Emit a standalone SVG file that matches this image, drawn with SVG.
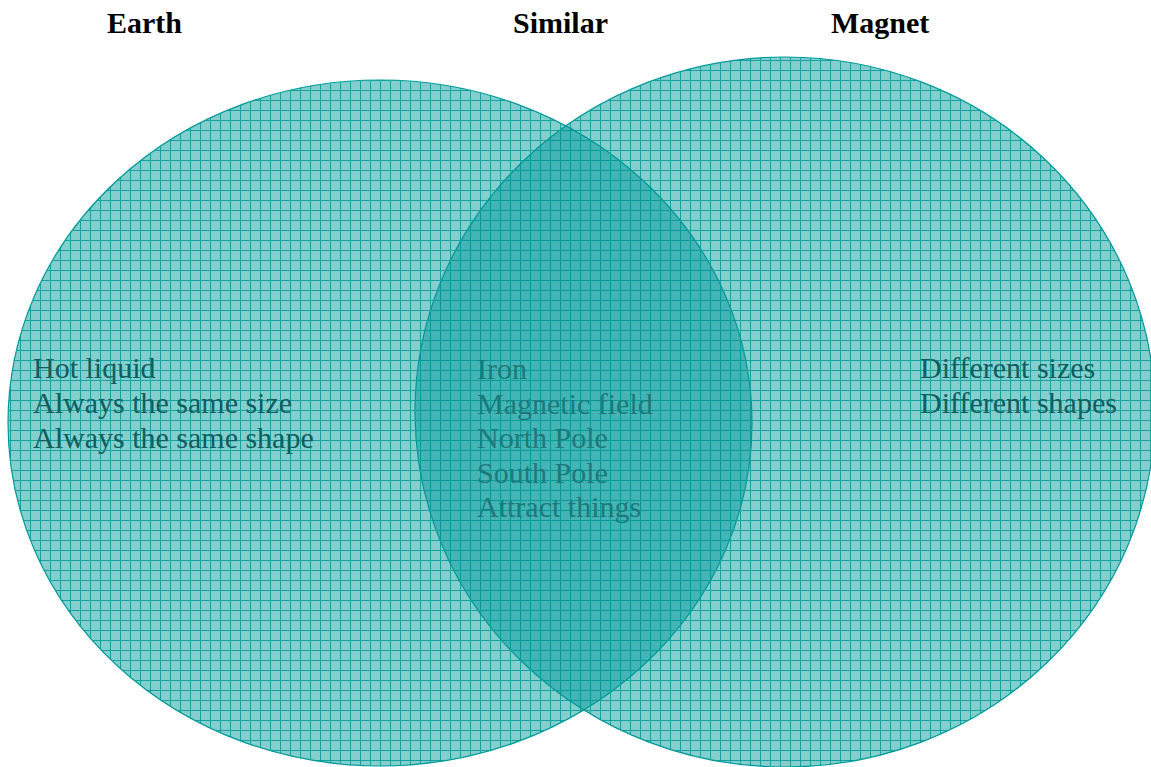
<svg xmlns="http://www.w3.org/2000/svg" width="1151" height="767" viewBox="0 0 1151 767">
<style>
.title{font-family:"Liberation Serif",serif;font-weight:bold;font-size:30px;fill:#000}
.body{font-family:"Liberation Serif",serif;font-size:30px}
.side{fill:#0f5e5e}
.mid{fill:#1c7a7a}
.circ{fill:url(#grid);stroke:#009999;stroke-width:1.2}
</style>
<defs>
<pattern id="grid" width="10" height="10" patternUnits="userSpaceOnUse">
<rect width="10" height="10" fill="#009999" fill-opacity="0.48"/>
<path d="M0 0.5H10M0.5 0V10" stroke="#009999" stroke-opacity="0.85" stroke-width="1" fill="none"/>
</pattern>
</defs>
<rect width="1151" height="767" fill="#fff"/>
<g id="connectors"></g>
<g id="earth">
<ellipse class="circ" cx="380" cy="423" rx="372" ry="343"/>
</g>
<g id="magnet">
<ellipse class="circ" cx="785" cy="412" rx="370" ry="355"/>
</g>
<g id="titles">
<text class="title" x="107" y="33">Earth</text>
<text class="title" x="513" y="33">Similar</text>
<text class="title" x="831" y="33">Magnet</text>
</g>
<g id="earth-text" class="body side">
<text x="33" y="378">Hot liquid</text>
<text x="33" y="413">Always the same size</text>
<text x="33" y="447.5">Always the same shape</text>
</g>
<g id="similar-text" class="body mid">
<text x="477" y="379">Iron</text>
<text x="477" y="413.5">Magnetic field</text>
<text x="477" y="448">North Pole</text>
<text x="477" y="482.5">South Pole</text>
<text x="477" y="517">Attract things</text>
</g>
<g id="magnet-text" class="body side">
<text x="920" y="378">Different sizes</text>
<text x="920" y="413">Different shapes</text>
</g>
</svg>
